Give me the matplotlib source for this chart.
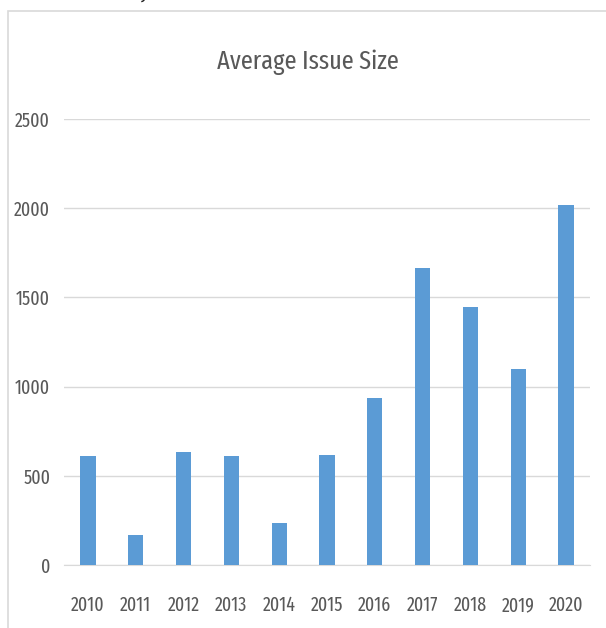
import matplotlib
matplotlib.use("Agg")
import matplotlib.pyplot as plt
from matplotlib.patches import Rectangle

years = ["2010", "2011", "2012", "2013", "2014", "2015",
         "2016", "2017", "2018", "2019", "2020"]
avg_size = [611, 168, 633, 611, 235, 617, 936, 1665, 1446, 1099, 2018]
yticks = [0, 500, 1000, 1500, 2000, 2500]

plt.rcParams['font.family'] = ['Fira Sans Extra Condensed', 'Roboto Condensed', 'DejaVu Sans']
plt.rcParams['font.weight'] = 'normal'
text_col = '#595959'
bar_col = '#5B9BD5'
grid_col = '#D9D9D9'

fig = plt.figure(figsize=(6.06, 6.28), dpi=100)

# chart frame (light border, open to right and bottom)
fig.patches.append(Rectangle((8 / 606, -0.1), 1.2, 1 - 11 / 628 + 0.1,
                             transform=fig.transFigure, fill=False,
                             edgecolor=grid_col, linewidth=1.2))
# clipped line of body text above the chart
fig.text(0.5, 1.013, "the market activity slowed down due to the crisis and a decline in new issues",
         ha='center', va='center', fontsize=15, color='#222222')

ax = fig.add_axes([64 / 606, 1 - 565 / 628, (590 - 64) / 606, (565 - 119) / 628])
x = range(len(years))
ax.bar(x, avg_size, width=0.32, color=bar_col, zorder=3)

ax.set_xlim(-0.5, len(years) - 0.5)
ax.set_ylim(0, 2500)
ax.set_yticks(yticks)
ax.set_xticks(list(x))
ax.set_xticklabels(years)
ax.yaxis.grid(True, color=grid_col, linewidth=1, zorder=0)
for s in ['top', 'right', 'left']:
    ax.spines[s].set_visible(False)
ax.spines['bottom'].set_color(grid_col)
ax.tick_params(axis='both', length=0, colors=text_col, labelsize=14)
ax.tick_params(axis='x', pad=22)
ax.tick_params(axis='y', pad=10)

fig.text(308 / 606, 1 - 62 / 628, "Average Issue Size", ha='center', va='center',
         fontsize=19, color=text_col)

fig.savefig("out.png", dpi=100)
